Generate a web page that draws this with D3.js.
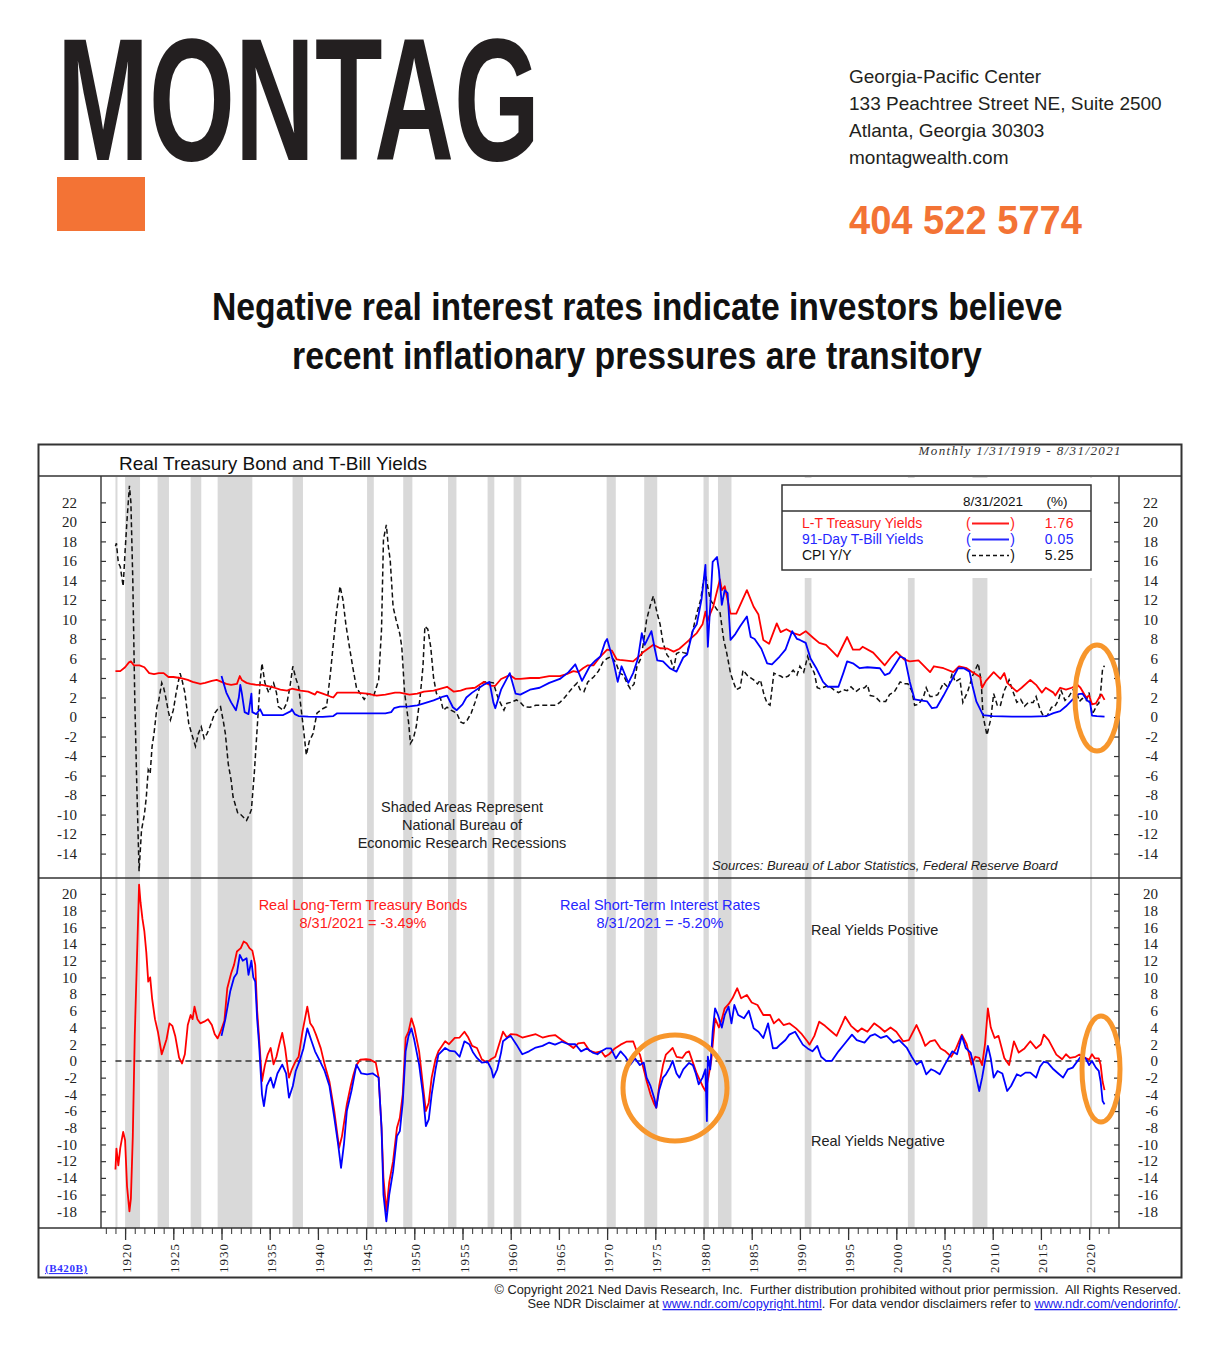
<!DOCTYPE html>
<html><head><meta charset="utf-8">
<script src="https://cdn.jsdelivr.net/npm/d3@7"></script>
<style>body{margin:0;background:#fff}svg{display:block}</style>
</head><body>
<svg id="c" width="1225" height="1361"></svg>
<script>
// ---------------- DATA ----------------
const recessions = [[1919.0,1919.2],[1920.0,1921.55],[1923.37,1924.55],[1926.8,1927.9],[1929.6,1933.2],[1937.37,1938.45],
  [1945.1,1945.8],[1948.85,1949.8],[1953.5,1954.37],[1957.6,1958.3],[1960.3,1961.1],[1969.95,1970.9],[1973.85,1975.2],
  [1980.0,1980.55],[1981.5,1982.9],[1990.5,1991.2],[2001.2,2001.9],[2007.9,2009.45],[2020.1,2020.3]];

const ltTreasury = [[1919.0,4.7],[1919.5,4.7],[1920.0,5.1],[1920.4,5.6],[1920.6,5.7],[1920.9,5.3],[1921.5,5.3],[1922.0,5.1],[1922.5,4.5],[1923.0,4.4],[1923.5,4.5],[1924.0,4.5],[1924.5,4.1],[1925.0,4.1],[1925.7,4.0],[1926.5,3.8],[1927.0,3.6],[1927.8,3.4],[1928.3,3.5],[1929.0,3.7],[1929.5,3.8],[1930.0,3.6],[1930.5,3.4],[1931.0,3.3],[1931.6,3.4],[1931.9,4.2],[1932.1,3.8],[1932.6,3.5],[1933.0,3.4],[1933.6,3.3],[1934.2,3.3],[1934.7,3.2],[1935.5,3.0],[1936.1,2.8],[1936.8,2.7],[1937.3,2.9],[1938.2,2.7],[1939.0,2.6],[1939.7,2.3],[1939.9,2.6],[1940.5,2.4],[1941.3,2.1],[1941.6,2.0],[1942.0,2.5],[1943.0,2.5],[1944.0,2.5],[1945.1,2.4],[1946.1,2.2],[1947.0,2.3],[1948.0,2.5],[1948.5,2.5],[1949.5,2.3],[1950.3,2.4],[1951.0,2.6],[1952.0,2.7],[1953.4,3.1],[1954.1,2.6],[1954.8,2.7],[1955.4,2.9],[1956.3,3.0],[1957.2,3.6],[1958.0,3.2],[1958.4,3.2],[1959.0,3.9],[1959.9,4.3],[1960.5,3.9],[1961.0,3.9],[1962.0,4.0],[1963.0,4.0],[1964.0,4.2],[1965.1,4.2],[1965.8,4.4],[1966.5,4.7],[1967.0,4.6],[1967.5,5.0],[1968.0,5.3],[1968.6,5.3],[1969.3,6.2],[1970.0,6.9],[1970.5,6.8],[1971.0,5.9],[1971.3,5.85],[1971.8,5.8],[1972.7,5.7],[1973.3,6.2],[1973.8,6.7],[1974.8,7.4],[1975.5,7.05],[1976.3,7.0],[1976.9,6.7],[1977.5,7.0],[1978.3,7.7],[1979.3,8.6],[1979.9,9.5],[1980.2,10.8],[1980.4,9.8],[1980.7,10.6],[1981.0,11.3],[1981.7,14.1],[1981.9,13.0],[1982.2,13.4],[1982.8,10.6],[1983.4,10.6],[1984.5,13.0],[1985.2,11.3],[1985.7,10.5],[1986.2,7.9],[1986.8,7.5],[1987.6,9.6],[1988.0,8.7],[1988.6,9.0],[1989.3,8.6],[1990.0,8.4],[1990.6,8.8],[1991.4,8.1],[1992.0,7.6],[1992.7,7.4],[1993.5,6.6],[1993.9,6.2],[1994.9,8.2],[1995.5,6.9],[1996.2,6.9],[1996.5,7.2],[1997.6,6.6],[1998.8,5.3],[1999.5,6.2],[2000.0,6.7],[2000.8,5.9],[2001.4,5.7],[2002.3,5.8],[2003.5,4.6],[2003.9,5.2],[2004.9,5.0],[2005.9,4.6],[2006.5,5.2],[2007.3,5.0],[2007.9,4.6],[2008.7,4.1],[2008.9,3.0],[2009.3,3.7],[2010.1,4.6],[2010.8,3.9],[2011.2,4.5],[2011.5,3.5],[2012.5,2.6],[2013.0,3.0],[2013.9,3.8],[2014.5,3.3],[2015.1,2.5],[2015.5,3.0],[2016.3,2.5],[2016.5,2.2],[2017.0,3.0],[2017.6,2.8],[2018.2,3.0],[2018.8,3.3],[2019.1,3.0],[2019.7,2.0],[2020.0,2.2],[2020.3,1.3],[2020.7,1.4],[2021.1,2.1],[2021.3,2.3],[2021.6,1.76]];

const tBill = [[1930.0,4.2],[1930.5,2.5],[1931.0,1.5],[1931.5,0.7],[1931.8,2.0],[1931.95,3.3],[1932.1,2.5],[1932.4,0.5],[1932.8,0.3],[1933.1,2.4],[1933.2,0.5],[1933.6,0.3],[1934.0,0.8],[1934.3,0.2],[1935.0,0.2],[1936.4,0.2],[1937.2,0.6],[1937.3,0.8],[1937.6,0.3],[1938.0,0.1],[1939.0,0.05],[1940.5,0.02],[1941.6,0.1],[1942.0,0.38],[1943.0,0.38],[1947.0,0.38],[1947.6,0.5],[1947.9,0.9],[1948.5,1.06],[1949.5,1.1],[1950.3,1.2],[1951.0,1.4],[1952.0,1.7],[1953.0,2.1],[1953.4,2.2],[1954.0,1.0],[1954.4,0.7],[1955.0,1.3],[1955.4,2.0],[1956.0,2.5],[1957.2,3.3],[1957.8,3.6],[1958.2,1.5],[1958.4,0.9],[1959.0,2.8],[1959.9,4.5],[1960.5,2.4],[1961.0,2.3],[1962.0,2.8],[1963.0,3.0],[1964.0,3.5],[1965.1,3.9],[1966.0,4.6],[1966.7,5.4],[1967.4,3.7],[1968.2,5.2],[1968.8,5.8],[1969.3,6.2],[1969.8,7.7],[1970.0,8.0],[1970.7,5.5],[1971.1,3.6],[1971.5,5.2],[1972.2,3.5],[1972.7,4.5],[1973.2,6.0],[1973.6,8.6],[1973.9,7.4],[1974.6,8.8],[1974.9,7.2],[1975.2,5.8],[1975.8,5.7],[1976.5,5.0],[1977.2,4.65],[1977.9,6.1],[1978.3,6.4],[1978.9,8.9],[1979.3,9.5],[1979.8,12.1],[1980.2,15.6],[1980.45,7.2],[1980.7,11.5],[1980.95,15.9],[1981.4,16.4],[1981.6,15.0],[1981.9,11.5],[1982.2,13.0],[1982.5,12.7],[1982.8,7.9],[1983.3,8.5],[1983.8,9.3],[1984.5,10.3],[1984.9,8.2],[1985.3,8.0],[1986.0,7.0],[1986.6,5.5],[1987.1,5.4],[1987.9,6.2],[1988.5,6.9],[1989.2,8.8],[1989.7,8.0],[1990.0,7.9],[1990.6,7.6],[1991.1,6.0],[1991.7,5.0],[1992.4,3.6],[1992.9,3.1],[1994.0,3.1],[1994.5,4.5],[1994.9,5.7],[1995.5,5.5],[1996.2,5.0],[1997.0,5.1],[1998.3,5.0],[1998.8,4.3],[1999.3,4.5],[2000.4,6.2],[2000.9,6.0],[2001.4,3.6],[2001.9,1.8],[2002.5,1.7],[2003.2,1.6],[2003.7,0.9],[2004.2,1.0],[2004.9,2.2],[2005.6,3.5],[2006.4,5.0],[2007.0,5.0],[2007.6,4.65],[2007.9,3.2],[2008.3,1.6],[2009.0,0.2],[2010.0,0.1],[2012.0,0.05],[2014.0,0.05],[2015.6,0.1],[2016.3,0.4],[2017.0,0.6],[2017.6,1.1],[2018.2,1.7],[2018.9,2.35],[2019.3,2.4],[2019.8,1.7],[2020.1,1.5],[2020.3,0.15],[2020.8,0.1],[2021.6,0.05]];

const cpiYoY = [[1919.0,17.5],[1919.1,17.8],[1919.3,15.8],[1919.5,15.4],[1919.8,13.4],[1920.0,17.0],[1920.2,20.2],[1920.45,23.7],[1920.6,22.0],[1920.8,14.0],[1921.0,2.0],[1921.2,-6.5],[1921.45,-15.8],[1921.7,-11.6],[1922.0,-10.0],[1922.2,-8.2],[1922.4,-5.4],[1922.6,-5.8],[1922.8,-3.0],[1923.0,-1.7],[1923.3,1.0],[1923.5,1.75],[1923.8,3.5],[1924.0,3.0],[1924.2,2.1],[1924.5,0.5],[1924.7,-0.3],[1925.0,0.7],[1925.3,2.5],[1925.7,4.5],[1925.9,3.8],[1926.2,2.5],[1926.6,-0.65],[1926.9,-1.7],[1927.3,-3.0],[1927.6,-1.7],[1927.9,-1.0],[1928.2,-2.2],[1928.5,-1.7],[1928.8,-1.0],[1929.3,0.4],[1929.6,0.8],[1929.9,1.06],[1930.2,-0.5],[1930.4,-1.7],[1930.7,-4.8],[1931.0,-6.5],[1931.2,-8.2],[1931.7,-9.9],[1932.0,-10.0],[1932.3,-10.3],[1932.6,-10.6],[1932.9,-10.0],[1933.1,-9.5],[1933.4,-5.8],[1933.8,0.4],[1934.0,3.5],[1934.2,5.5],[1934.5,3.5],[1934.9,2.5],[1935.1,3.0],[1935.4,3.5],[1935.7,2.5],[1935.9,1.06],[1936.4,0.7],[1936.8,1.5],[1937.1,3.1],[1937.4,5.2],[1937.7,4.0],[1938.0,3.1],[1938.3,0.5],[1938.5,-1.2],[1938.8,-3.9],[1939.1,-2.5],[1939.5,-1.7],[1939.9,0.4],[1940.4,0.8],[1940.9,1.06],[1941.3,4.5],[1941.6,7.5],[1941.9,10.5],[1942.3,13.4],[1942.6,12.0],[1942.9,9.5],[1943.2,7.6],[1943.6,5.2],[1944.0,3.0],[1944.4,2.4],[1944.8,1.8],[1945.2,2.4],[1945.8,2.2],[1946.3,3.8],[1946.6,9.0],[1946.8,18.2],[1947.1,19.7],[1947.3,17.5],[1947.5,16.1],[1947.8,11.3],[1948.1,10.0],[1948.5,8.5],[1948.7,7.2],[1949.0,2.4],[1949.4,-0.5],[1949.6,-2.7],[1949.9,-2.2],[1950.2,-1.0],[1950.6,2.0],[1950.9,5.2],[1951.1,9.3],[1951.4,9.0],[1951.7,7.2],[1952.0,4.0],[1952.3,2.4],[1952.7,2.0],[1953.0,0.7],[1953.4,1.0],[1953.8,0.7],[1954.4,0.4],[1954.8,-0.5],[1955.1,-0.65],[1955.5,-0.3],[1955.9,0.4],[1956.3,1.5],[1956.8,3.1],[1957.2,3.6],[1957.5,3.6],[1958.2,3.5],[1958.6,2.2],[1958.9,1.5],[1959.3,0.7],[1959.6,1.4],[1960.0,1.5],[1960.6,1.75],[1961.0,1.5],[1961.4,1.06],[1962.0,1.0],[1962.6,1.2],[1963.3,1.2],[1964.1,1.2],[1964.7,1.2],[1965.1,1.5],[1965.6,2.0],[1966.0,2.5],[1966.5,3.1],[1966.9,3.5],[1967.2,2.8],[1967.6,2.6],[1968.0,3.6],[1968.6,4.1],[1969.1,4.7],[1969.6,5.7],[1970.0,6.0],[1970.4,6.2],[1970.9,5.6],[1971.3,4.5],[1971.7,4.3],[1972.1,3.4],[1972.4,2.9],[1972.8,3.4],[1973.1,5.2],[1973.5,6.0],[1973.8,7.8],[1974.1,10.0],[1974.5,11.5],[1974.8,12.4],[1975.2,10.6],[1975.5,9.5],[1975.8,7.6],[1976.2,6.4],[1976.6,5.85],[1976.9,4.9],[1977.2,6.5],[1977.6,6.7],[1977.9,6.6],[1978.3,6.5],[1978.6,7.9],[1978.9,8.9],[1979.3,10.6],[1979.7,12.0],[1980.0,14.0],[1980.2,14.6],[1980.5,13.0],[1980.7,12.0],[1981.0,11.6],[1981.4,11.0],[1981.7,10.8],[1982.1,7.9],[1982.4,6.6],[1982.8,4.5],[1983.1,3.6],[1983.4,2.8],[1983.8,3.0],[1984.1,4.8],[1984.6,4.2],[1984.9,4.0],[1985.2,3.8],[1985.6,3.4],[1985.9,3.8],[1986.3,2.2],[1986.6,1.4],[1986.9,1.2],[1987.3,4.5],[1987.7,4.3],[1988.0,4.2],[1988.3,4.0],[1988.8,4.2],[1989.3,4.8],[1989.7,4.3],[1990.0,5.2],[1990.4,4.6],[1990.8,6.2],[1991.1,5.3],[1991.5,4.5],[1991.8,3.0],[1992.1,2.9],[1992.6,3.1],[1993.0,3.2],[1993.5,2.8],[1994.0,2.5],[1994.5,2.8],[1994.9,2.7],[1995.3,3.1],[1995.8,2.6],[1996.2,2.9],[1996.7,3.0],[1997.0,3.3],[1997.3,2.2],[1997.8,2.1],[1998.3,1.6],[1998.9,1.6],[1999.3,2.3],[1999.8,2.6],[2000.4,3.6],[2000.8,3.4],[2001.2,3.4],[2001.6,2.7],[2001.9,1.2],[2002.3,1.3],[2002.8,2.0],[2003.1,3.0],[2003.5,2.1],[2003.8,2.1],[2004.3,2.3],[2004.9,3.5],[2005.4,3.0],[2005.8,4.5],[2006.1,3.6],[2006.6,3.9],[2006.9,1.5],[2007.4,2.6],[2007.9,4.2],[2008.5,5.5],[2008.8,3.7],[2009.0,0.1],[2009.4,-1.85],[2009.8,-0.2],[2010.1,2.4],[2010.5,1.1],[2010.8,1.2],[2011.2,2.7],[2011.7,3.8],[2012.0,2.9],[2012.5,1.5],[2012.9,1.8],[2013.3,1.1],[2013.7,1.5],[2014.2,1.5],[2014.5,2.1],[2014.9,0.8],[2015.3,0.0],[2015.7,0.2],[2016.1,1.0],[2016.4,1.0],[2016.8,1.7],[2017.1,2.7],[2017.5,1.7],[2017.9,2.1],[2018.4,2.9],[2018.8,2.2],[2019.0,1.6],[2019.3,1.9],[2019.7,1.7],[2020.0,2.5],[2020.3,0.3],[2020.5,0.6],[2020.8,1.2],[2021.0,1.4],[2021.2,2.6],[2021.4,5.0],[2021.6,5.25]];

const realLongTerm = [[1919.0,-13.0],[1919.1,-10.5],[1919.3,-12.5],[1919.5,-10.4],[1919.8,-8.5],[1920.0,-9.5],[1920.2,-15.0],[1920.45,-18.0],[1920.6,-16.5],[1920.8,-9.0],[1921.0,3.0],[1921.2,11.0],[1921.45,21.1],[1921.6,19.0],[1921.8,17.0],[1922.0,15.5],[1922.2,13.0],[1922.4,9.5],[1922.6,10.0],[1922.8,7.5],[1923.1,5.0],[1923.4,3.5],[1923.8,0.8],[1924.0,1.5],[1924.3,2.6],[1924.6,4.5],[1924.9,4.2],[1925.2,3.0],[1925.6,0.4],[1925.9,-0.3],[1926.2,0.8],[1926.5,4.3],[1926.8,5.5],[1927.0,5.0],[1927.2,6.5],[1927.5,5.0],[1927.8,4.5],[1928.2,4.7],[1928.6,5.0],[1929.0,4.3],[1929.3,3.2],[1929.6,2.7],[1929.9,3.5],[1930.3,4.8],[1930.6,8.7],[1931.0,10.5],[1931.3,11.5],[1931.6,13.1],[1932.0,13.5],[1932.3,14.3],[1932.6,14.1],[1932.9,13.5],[1933.2,13.2],[1933.5,11.5],[1933.7,6.0],[1933.9,2.75],[1934.2,-2.4],[1934.5,-0.5],[1934.8,0.8],[1935.1,1.55],[1935.4,-0.4],[1935.7,0.5],[1936.0,2.0],[1936.3,3.35],[1936.6,1.5],[1937.0,-2.0],[1937.3,-1.0],[1937.7,0.0],[1938.0,0.5],[1938.4,3.5],[1938.9,6.5],[1939.2,4.5],[1939.5,4.0],[1939.8,3.15],[1940.3,1.5],[1940.7,-0.44],[1941.2,-2.5],[1941.7,-6.0],[1942.2,-10.4],[1942.5,-9.0],[1943.0,-5.2],[1943.4,-3.0],[1943.7,-1.6],[1944.0,-0.5],[1944.4,0.16],[1945.0,0.2],[1945.4,0.16],[1946.0,-0.2],[1946.3,-2.0],[1946.6,-8.0],[1946.8,-14.0],[1947.1,-18.0],[1947.4,-14.5],[1947.8,-12.0],[1948.2,-8.0],[1948.5,-6.8],[1948.8,-4.0],[1949.1,2.75],[1949.4,3.5],[1949.7,5.1],[1950.0,4.0],[1950.5,1.15],[1950.9,-3.0],[1951.2,-6.0],[1951.5,-5.0],[1951.8,-2.0],[1952.2,0.2],[1952.5,1.15],[1953.2,2.35],[1953.6,2.0],[1954.2,2.75],[1954.7,2.8],[1955.2,3.5],[1955.6,2.8],[1956.0,1.8],[1956.5,1.55],[1957.0,0.2],[1957.5,-0.2],[1957.9,0.16],[1958.4,0.5],[1958.8,2.0],[1959.2,3.5],[1959.6,2.8],[1960.0,3.2],[1960.6,3.15],[1961.2,2.8],[1961.9,3.0],[1962.6,3.2],[1963.3,2.8],[1964.0,3.0],[1964.6,3.1],[1965.3,2.5],[1966.0,2.0],[1966.5,1.55],[1967.0,2.1],[1967.6,2.2],[1968.2,1.2],[1968.8,1.0],[1969.4,1.15],[1969.8,0.5],[1970.2,0.8],[1970.8,1.5],[1971.4,1.95],[1972.0,2.3],[1972.7,2.35],[1973.0,1.4],[1973.4,0.76],[1973.8,-1.0],[1974.1,-2.4],[1974.5,-4.0],[1974.9,-5.2],[1975.1,-5.6],[1975.4,-3.0],[1975.8,-0.5],[1976.1,0.76],[1976.5,1.2],[1976.8,1.55],[1977.2,0.5],[1977.8,0.36],[1978.2,1.0],[1978.5,1.15],[1978.9,-0.2],[1979.3,-1.5],[1979.5,-2.0],[1979.9,-3.0],[1980.2,-3.6],[1980.5,-2.0],[1980.8,0.0],[1981.2,5.1],[1981.6,4.0],[1981.9,5.0],[1982.2,6.3],[1982.6,6.8],[1983.0,7.5],[1983.5,8.7],[1983.9,7.5],[1984.5,7.9],[1985.0,7.0],[1985.6,6.7],[1986.2,5.5],[1986.9,5.5],[1987.3,4.5],[1987.8,5.0],[1988.3,4.3],[1988.9,4.5],[1989.6,3.9],[1990.2,3.2],[1990.8,2.3],[1991.0,1.95],[1991.5,3.0],[1992.0,4.7],[1992.6,4.2],[1993.3,3.5],[1993.8,3.0],[1994.4,4.5],[1994.7,5.3],[1995.3,4.2],[1996.0,3.5],[1996.4,3.9],[1997.0,3.5],[1997.7,4.5],[1998.3,4.0],[1998.8,3.5],[1999.4,4.0],[2000.0,3.5],[2000.7,2.35],[2001.3,2.5],[2002.1,4.3],[2002.6,3.0],[2003.0,1.8],[2003.5,2.35],[2004.0,2.5],[2004.6,1.5],[2005.1,1.15],[2005.7,0.5],[2006.2,1.5],[2006.8,3.15],[2007.3,2.0],[2007.8,-0.44],[2008.2,0.5],[2008.6,0.36],[2008.9,-0.5],[2009.2,2.0],[2009.5,6.3],[2009.8,4.0],[2010.2,2.75],[2010.6,3.0],[2011.2,0.36],[2011.7,-0.5],[2012.2,2.35],[2012.7,1.0],[2013.3,1.5],[2013.9,2.35],[2014.5,1.5],[2015.0,2.0],[2015.3,3.15],[2015.8,2.5],[2016.6,0.76],[2017.2,0.2],[2017.6,0.8],[2018.0,0.36],[2018.6,0.5],[2019.0,0.76],[2019.5,0.4],[2020.0,0.16],[2020.3,0.8],[2020.6,0.3],[2021.0,0.3],[2021.2,-0.5],[2021.4,-2.5],[2021.6,-3.49]];

const realShortTerm = [[1930.0,3.0],[1930.4,5.0],[1930.9,8.3],[1931.3,10.0],[1931.6,10.5],[1931.9,12.7],[1932.2,12.0],[1932.6,12.3],[1932.8,10.3],[1933.1,12.0],[1933.3,10.0],[1933.5,9.5],[1933.7,5.0],[1933.9,1.95],[1934.2,-4.0],[1934.4,-5.4],[1934.7,-3.0],[1935.1,-2.0],[1935.4,-3.2],[1935.8,-1.5],[1936.3,-0.44],[1936.7,-1.5],[1937.0,-4.4],[1937.4,-3.0],[1937.7,-1.2],[1938.1,0.0],[1938.5,1.5],[1938.9,3.9],[1939.3,2.5],[1939.7,1.15],[1940.2,0.0],[1940.7,-1.2],[1941.2,-3.0],[1941.7,-6.8],[1942.1,-10.0],[1942.4,-12.8],[1942.7,-10.0],[1943.0,-6.0],[1943.5,-3.5],[1944.0,-0.44],[1944.5,-1.5],[1945.1,-1.6],[1945.7,-1.5],[1946.3,-2.0],[1946.6,-8.0],[1946.8,-16.0],[1947.1,-19.2],[1947.4,-16.0],[1947.8,-13.2],[1948.2,-9.0],[1948.5,-8.4],[1948.8,-5.0],[1949.1,1.15],[1949.4,3.0],[1949.7,3.9],[1950.0,2.5],[1950.5,-0.44],[1950.9,-4.0],[1951.2,-7.8],[1951.5,-7.0],[1951.8,-4.0],[1952.2,-1.0],[1952.5,0.76],[1953.2,1.55],[1953.7,1.2],[1954.2,1.15],[1954.7,0.5],[1955.2,2.35],[1955.7,2.0],[1956.1,1.0],[1956.5,0.36],[1957.0,-0.2],[1957.6,-0.1],[1958.0,-1.0],[1958.2,-2.0],[1958.6,-1.0],[1959.0,1.0],[1959.2,2.35],[1959.7,2.8],[1960.0,3.0],[1960.6,1.95],[1961.2,0.8],[1961.9,1.15],[1962.6,1.6],[1963.3,1.8],[1964.0,2.2],[1964.6,1.95],[1965.3,2.3],[1966.0,2.0],[1966.7,2.0],[1967.3,1.15],[1967.9,1.5],[1968.5,1.0],[1969.0,0.8],[1969.4,1.15],[1969.9,1.5],[1970.4,1.5],[1970.9,0.3],[1971.4,1.15],[1971.9,0.5],[1972.4,-0.44],[1972.9,0.3],[1973.4,-0.5],[1973.8,-0.2],[1974.1,-2.0],[1974.5,-3.0],[1974.9,-4.5],[1975.1,-5.6],[1975.4,-3.5],[1975.8,-2.0],[1976.1,-1.6],[1976.5,-0.8],[1976.8,0.0],[1977.2,-1.5],[1977.5,-2.0],[1977.9,-1.0],[1978.5,-0.24],[1978.9,-0.5],[1979.2,-1.5],[1979.5,-2.8],[1979.9,-2.0],[1980.2,-1.0],[1980.35,-7.2],[1980.45,0.5],[1980.7,-1.0],[1980.95,3.5],[1981.2,6.3],[1981.5,5.5],[1981.9,4.0],[1982.2,5.5],[1982.6,6.5],[1982.9,4.5],[1983.2,6.7],[1983.6,5.5],[1984.2,5.1],[1984.7,6.0],[1985.2,3.9],[1985.7,3.5],[1986.2,2.75],[1986.7,4.5],[1987.2,1.5],[1987.6,1.55],[1988.0,2.0],[1988.5,2.5],[1988.9,3.15],[1989.5,3.5],[1990.3,1.95],[1990.8,1.5],[1991.3,1.15],[1991.8,1.8],[1992.2,0.5],[1992.7,0.0],[1993.3,0.0],[1994.0,1.15],[1994.6,2.0],[1995.4,3.15],[1995.9,2.5],[1996.7,2.2],[1997.3,3.0],[1997.8,3.2],[1998.4,2.75],[1999.0,3.0],[1999.7,2.2],[2000.3,2.5],[2001.1,1.55],[2001.6,0.5],[2002.1,-0.44],[2002.6,0.0],[2003.1,-1.6],[2003.6,-1.0],[2004.0,-1.2],[2004.5,-1.6],[2005.0,-0.5],[2005.8,1.15],[2006.3,0.8],[2006.8,3.0],[2007.2,1.55],[2007.7,1.0],[2008.0,-0.4],[2008.3,-2.0],[2008.6,-3.6],[2008.9,-2.0],[2009.2,0.0],[2009.5,1.8],[2009.8,0.3],[2010.1,-2.0],[2010.5,-1.2],[2011.0,-1.5],[2011.5,-3.6],[2011.9,-3.0],[2012.5,-1.6],[2012.9,-1.8],[2013.4,-1.4],[2013.9,-1.4],[2014.5,-2.0],[2014.9,-0.7],[2015.3,-0.1],[2015.7,-0.2],[2016.3,-1.0],[2016.8,-1.5],[2017.3,-2.0],[2017.8,-1.0],[2018.3,-0.8],[2018.8,0.0],[2019.3,0.76],[2019.7,0.2],[2020.0,-0.5],[2020.3,0.0],[2020.7,-0.8],[2021.0,-1.2],[2021.2,-2.5],[2021.4,-4.8],[2021.6,-5.2]];

const topTicks = d3.range(-14, 23, 2);
const bottomTicks = d3.range(-18, 21, 2);
const yearLabels = d3.range(1920, 2021, 5);
const legendRows = [
  {name:"L-T Treasury Yields", value:"1.76", color:"#ff1a1a", dash:null},
  {name:"91-Day T-Bill Yields", value:"0.05", color:"#2626ff", dash:null},
  {name:"CPI Y/Y", value:"5.25", color:"#111", dash:"4,3"}
];

// ---------------- DRAW ----------------
const svg = d3.select("#c");
const SANS = "'Liberation Sans', Arial, sans-serif";
const NARROW = "'Liberation Sans Narrow', 'Liberation Sans', sans-serif";
const SERIF = "'Liberation Serif', 'Times New Roman', serif";

const x = d3.scaleLinear().domain([1917.5, 2023.1]).range([101, 1119]);
const yTop = d3.scaleLinear().domain([-16.5, 24.6]).range([878, 477]);
const yBot = d3.scaleLinear().domain([-20, 21.9]).range([1228, 878]);

// helper: horizontally fit a text to a width by scaling
function fitText(sel, x0, width, anchor) {
  const w = sel.node().getComputedTextLength();
  const k = width / w;
  const left = anchor === "middle" ? x0 - width / 2 : x0;
  sel.attr("x", 0).attr("text-anchor", "start")
     .attr("transform", `translate(${left},${sel.attr("y")}) scale(${k},1)`).attr("y", 0);
}

// Header
const logo = svg.append("text").attr("y", 160).attr("font-family", NARROW).attr("font-weight", "bold")
  .attr("font-size", 175).attr("fill", "#231f20").text("MONTAG");
fitText(logo, 57, 483, "start");
svg.append("rect").attr("x", 57).attr("y", 177).attr("width", 88).attr("height", 54).attr("fill", "#f37335");
const addr = ["Georgia-Pacific Center", "133 Peachtree Street NE, Suite 2500", "Atlanta, Georgia 30303", "montagwealth.com"];
addr.forEach((t, i) => svg.append("text").attr("x", 849).attr("y", 83 + i * 27).attr("font-family", NARROW)
  .attr("font-size", 19).attr("fill", "#231f20").text(t));
const phone = svg.append("text").attr("y", 234).attr("font-family", NARROW).attr("font-weight", "bold")
  .attr("font-size", 41).attr("fill", "#f37335").text("404 522 5774");
fitText(phone, 849, 233, "start");
const t1 = svg.append("text").attr("y", 320).attr("font-family", NARROW).attr("font-weight", "bold")
  .attr("font-size", 39).attr("fill", "#111").text("Negative real interest rates indicate investors believe");
fitText(t1, 637.5, 851, "middle");
const t2 = svg.append("text").attr("y", 369).attr("font-family", NARROW).attr("font-weight", "bold")
  .attr("font-size", 39).attr("fill", "#111").text("recent inflationary pressures are transitory");
fitText(t2, 637, 690, "middle");

// Recession shading
const shade = svg.append("g").attr("fill", "#d9d9d9");
recessions.forEach(([a, b]) => {
  shade.append("rect").attr("x", x(a)).attr("y", 477).attr("width", Math.max(2, x(b) - x(a))).attr("height", 1228 - 477);
});

// Legend white area (covers shading)
svg.append("rect").attr("x", 776).attr("y", 478).attr("width", 320).attr("height", 100).attr("fill", "#fff");

// Zero line bottom
svg.append("line").attr("x1", x(1919)).attr("x2", x(2021.6)).attr("y1", yBot(0)).attr("y2", yBot(0))
  .attr("stroke", "#333").attr("stroke-width", 1.6).attr("stroke-dasharray", "6,4");

// Lines
const lineT = d3.line().x(d => x(d[0])).y(d => yTop(d[1]));
const lineB = d3.line().x(d => x(d[0])).y(d => yBot(d[1]));
svg.append("path").attr("d", lineT(cpiYoY)).attr("fill", "none").attr("stroke", "#111").attr("stroke-width", 1.5).attr("stroke-dasharray", "5,3");
svg.append("path").attr("d", lineT(ltTreasury)).attr("fill", "none").attr("stroke", "#ff0000").attr("stroke-width", 1.8).attr("stroke-linejoin", "round");
svg.append("path").attr("d", lineT(tBill)).attr("fill", "none").attr("stroke", "#0000ff").attr("stroke-width", 1.8).attr("stroke-linejoin", "round");
svg.append("path").attr("d", lineB(realLongTerm)).attr("fill", "none").attr("stroke", "#ff0000").attr("stroke-width", 1.8).attr("stroke-linejoin", "round");
svg.append("path").attr("d", lineB(realShortTerm)).attr("fill", "none").attr("stroke", "#0000ff").attr("stroke-width", 1.8).attr("stroke-linejoin", "round");

// Frame
const frame = svg.append("g").attr("stroke", "#333").attr("fill", "none");
frame.append("rect").attr("x", 38.5).attr("y", 444.5).attr("width", 1143).attr("height", 833).attr("stroke-width", 2);
[476, 878, 1228].forEach(yy => frame.append("line").attr("x1", 38).attr("x2", 1182).attr("y1", yy).attr("y2", yy).attr("stroke-width", 1.6));
[101, 1119].forEach(xx => frame.append("line").attr("x1", xx).attr("x2", xx).attr("y1", 476).attr("y2", 1228).attr("stroke-width", 1.4));

// Axes
function styleAxis(g, anchor, dx) {
  g.select(".domain").remove();
  g.selectAll(".tick line").attr("stroke", "#333").attr("stroke-width", 1.2);
  g.selectAll(".tick text").attr("font-family", SERIF).attr("font-size", 15).attr("fill", "#222")
    .attr("text-anchor", anchor).attr("x", dx);
}
const fmt = d => String(d);
svg.append("g").attr("transform", "translate(101,0)").call(d3.axisLeft(yTop).tickValues(topTicks).tickFormat(fmt).tickSize(-5))
  .call(g => styleAxis(g, "end", -24));
svg.append("g").attr("transform", "translate(1119,0)").call(d3.axisRight(yTop).tickValues(topTicks).tickFormat(fmt).tickSize(-5))
  .call(g => styleAxis(g, "end", 39));
svg.append("g").attr("transform", "translate(101,0)").call(d3.axisLeft(yBot).tickValues(bottomTicks).tickFormat(fmt).tickSize(-5))
  .call(g => styleAxis(g, "end", -24));
svg.append("g").attr("transform", "translate(1119,0)").call(d3.axisRight(yBot).tickValues(bottomTicks).tickFormat(fmt).tickSize(-5))
  .call(g => styleAxis(g, "end", 39));

// X axis: minor yearly ticks, major 5-year ticks, rotated labels
const xa = svg.append("g").attr("transform", "translate(0,1228)");
xa.call(d3.axisBottom(x).tickValues(d3.range(1918, 2023)).tickFormat("").tickSize(6))
  .call(g => { g.select(".domain").remove(); g.selectAll(".tick line").attr("stroke", "#333"); });
const xb = svg.append("g").attr("transform", "translate(0,1228)");
xb.call(d3.axisBottom(x).tickValues(yearLabels).tickFormat(fmt).tickSize(12))
  .call(g => {
    g.select(".domain").remove();
    g.selectAll(".tick line").attr("stroke", "#333").attr("stroke-width", 1.3);
    g.selectAll(".tick text").attr("transform", "rotate(-90)").attr("x", -45).attr("y", 1).attr("dy", "0.35em")
      .attr("text-anchor", "start").attr("font-family", SERIF).attr("font-size", 13).attr("letter-spacing", 1).attr("fill", "#222");
  });

// Chart texts
svg.append("text").attr("x", 119).attr("y", 470).attr("font-family", SANS).attr("font-size", 19).attr("fill", "#111")
  .text("Real Treasury Bond and T-Bill Yields");
svg.append("text").attr("x", 1122).attr("y", 455).attr("text-anchor", "end").attr("font-family", SERIF).attr("font-style", "italic")
  .attr("font-size", 13).attr("fill", "#333").attr("letter-spacing", 1.4).text("Monthly 1/31/1919 - 8/31/2021");
["Shaded Areas Represent", "National Bureau of", "Economic Research Recessions"].forEach((t, i) =>
  svg.append("text").attr("x", 462).attr("y", 812 + i * 18).attr("text-anchor", "middle").attr("font-family", SANS)
    .attr("font-size", 14.5).attr("fill", "#222").text(t));
svg.append("text").attr("x", 712).attr("y", 870).attr("font-family", SANS).attr("font-style", "italic").attr("font-size", 13)
  .attr("fill", "#222").text("Sources: Bureau of Labor Statistics, Federal Reserve Board");

// Legend box
const lg = svg.append("g");
lg.append("rect").attr("x", 782).attr("y", 485).attr("width", 309).attr("height", 85).attr("fill", "#fff").attr("stroke", "#333").attr("stroke-width", 1.5);
lg.append("line").attr("x1", 782).attr("x2", 1091).attr("y1", 511).attr("y2", 511).attr("stroke", "#333").attr("stroke-width", 1.5);
lg.append("text").attr("x", 993).attr("y", 506).attr("text-anchor", "middle").attr("font-family", SANS).attr("font-size", 13.5).attr("fill", "#111").text("8/31/2021");
lg.append("text").attr("x", 1057).attr("y", 506).attr("text-anchor", "middle").attr("font-family", SANS).attr("font-size", 13.5).attr("fill", "#111").text("(%)");
legendRows.forEach((r, i) => {
  const yy = 528 + i * 16;
  lg.append("text").attr("x", 802).attr("y", yy).attr("font-family", SANS).attr("font-size", 14).attr("fill", r.color).text(r.name);
  lg.append("text").attr("x", 966).attr("y", yy).attr("font-family", SANS).attr("font-size", 14).attr("fill", r.color).text("(");
  lg.append("text").attr("x", 1015).attr("y", yy).attr("text-anchor", "end").attr("font-family", SANS).attr("font-size", 14).attr("fill", r.color).text(")");
  lg.append("line").attr("x1", 972).attr("x2", 1009).attr("y1", yy - 4.5).attr("y2", yy - 4.5).attr("stroke", r.color)
    .attr("stroke-width", r.dash ? 1.4 : 2).attr("stroke-dasharray", r.dash);
  lg.append("text").attr("x", 1074).attr("y", yy).attr("text-anchor", "end").attr("font-family", SANS).attr("font-size", 14)
    .attr("letter-spacing", 0.5).attr("fill", r.color).text(r.value);
});

// Bottom annotations
const ann = [
  {t: "Real Long-Term Treasury Bonds", x: 363, y: 910, c: "#ff1a1a", a: "middle"},
  {t: "8/31/2021 = -3.49%", x: 363, y: 928, c: "#ff1a1a", a: "middle"},
  {t: "Real Short-Term Interest Rates", x: 660, y: 910, c: "#2626ff", a: "middle"},
  {t: "8/31/2021 = -5.20%", x: 660, y: 928, c: "#2626ff", a: "middle"},
  {t: "Real Yields Positive", x: 811, y: 935, c: "#222", a: "start"},
  {t: "Real Yields Negative", x: 811, y: 1146, c: "#222", a: "start"}
];
ann.forEach(d => svg.append("text").attr("x", d.x).attr("y", d.y).attr("text-anchor", d.a).attr("font-family", SANS)
  .attr("font-size", 14.5).attr("fill", d.c).text(d.t));

// Orange highlight ellipses
const ell = [[1097, 698, 22, 53], [675, 1088, 52, 53], [1101, 1069, 19, 53]];
ell.forEach(([cx, cy, rx, ry]) => svg.append("ellipse").attr("cx", cx).attr("cy", cy).attr("rx", rx).attr("ry", ry)
  .attr("fill", "none").attr("stroke", "#f7962c").attr("stroke-width", 5));

// Footer
svg.append("text").attr("x", 45).attr("y", 1272).attr("font-family", SERIF).attr("font-weight", "bold").attr("font-size", 11)
  .attr("letter-spacing", 0.6).attr("fill", "#3333ff").attr("text-decoration", "underline").text("(B420B)");
svg.append("text").attr("x", 1181).attr("y", 1294).attr("text-anchor", "end").attr("font-family", SANS).attr("font-size", 12.8)
  .attr("fill", "#222").attr("xml:space", "preserve")
  .text("© Copyright 2021 Ned Davis Research, Inc.  Further distribution prohibited without prior permission.  All Rights Reserved.");
const f2 = svg.append("text").attr("x", 1181).attr("y", 1308).attr("text-anchor", "end").attr("font-family", SANS).attr("font-size", 12.8).attr("fill", "#222");
f2.append("tspan").text("See NDR Disclaimer at ");
f2.append("tspan").attr("fill", "#2222ee").attr("text-decoration", "underline").text("www.ndr.com/copyright.html");
f2.append("tspan").text(". For data vendor disclaimers refer to ");
f2.append("tspan").attr("fill", "#2222ee").attr("text-decoration", "underline").text("www.ndr.com/vendorinfo/");
f2.append("tspan").text(".");
</script>
</body></html>
